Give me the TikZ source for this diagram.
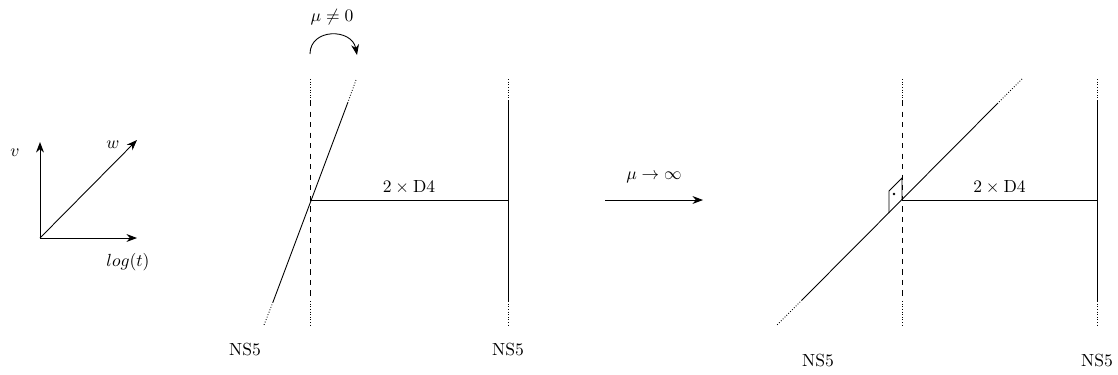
\documentclass[tikz,border=0pt]{standalone}
\usepackage{amsmath, amssymb}
\usetikzlibrary{arrows.meta, positioning, calc}

\begin{document}
\begin{tikzpicture}[x=0.57pt, y=-0.57pt, >={Stealth[length=6pt,width=4.5pt]}, line width=0.5pt]
  \useasboundingbox (0,0) rectangle (1118,374);
  % axes
  \coordinate (O) at (40,238);
  \node (v) at (15,153) {$v$};
  \node (w) at (113,145) {$w$};
  \node (logt) at (128,262) {$log(t)$};
  \draw[->] (O) -- (40,142);
  \draw[->] (O) -- (137,140);
  \draw[->] (O) -- (137,238);

  % left configuration, mu not zero
  \coordinate (A) at (310,200);
  \coordinate (B) at (508,200);
  \draw[densely dotted] (310,79) -- (310,101);
  \draw[dashed] (310,101) -- (310,301);
  \draw[densely dotted] (310,301) -- (310,325);
  \draw[densely dotted] (356,80) -- (348,102);
  \draw (348,102) -- (273,302);
  \draw[densely dotted] (273,302) -- (264,325);
  \node (ns5a) at (245,349) {NS5};
  \draw[densely dotted] (508,79) -- (508,101);
  \draw (508,101) -- (508,301);
  \draw[densely dotted] (508,301) -- (508,325);
  \node (ns5b) at (508,349) {NS5};
  \draw (A) -- (B) node[midway, above] (d4a) {$2\times\mathrm{D4}$};
  \draw[->] (310,54) .. controls (310,28) and (352,28) .. (357,55);
  \node (mua) at (332,17) {$\mu\neq 0$};

  % limit arrow
  \draw[->] (605,200) -- (703,200) node[midway, above=6pt] (mub) {$\mu\rightarrow\infty$};

  % right configuration
  \coordinate (C) at (902,200);
  \coordinate (D) at (1097,200);
  \draw[densely dotted] (902,79) -- (902,101);
  \draw[dashed] (902,101) -- (902,301);
  \draw[densely dotted] (902,301) -- (902,325);
  \draw[densely dotted] (1022,79) -- (998,103);
  \draw (998,103) -- (802,300);
  \draw[densely dotted] (802,300) -- (777,325);
  \node (ns5c) at (818,360) {NS5};
  \draw[densely dotted] (1097,79) -- (1097,101);
  \draw (1097,101) -- (1097,301);
  \draw[densely dotted] (1097,301) -- (1097,325);
  \node (ns5d) at (1097,360) {NS5};
  \draw (C) -- (D) node[midway, above] (d4b) {$2\times\mathrm{D4}$};
  \draw (C) -- (902,178) -- (889,191) -- (889,213);
  \fill (894,194) circle (0.8pt);
\end{tikzpicture}
\end{document}
